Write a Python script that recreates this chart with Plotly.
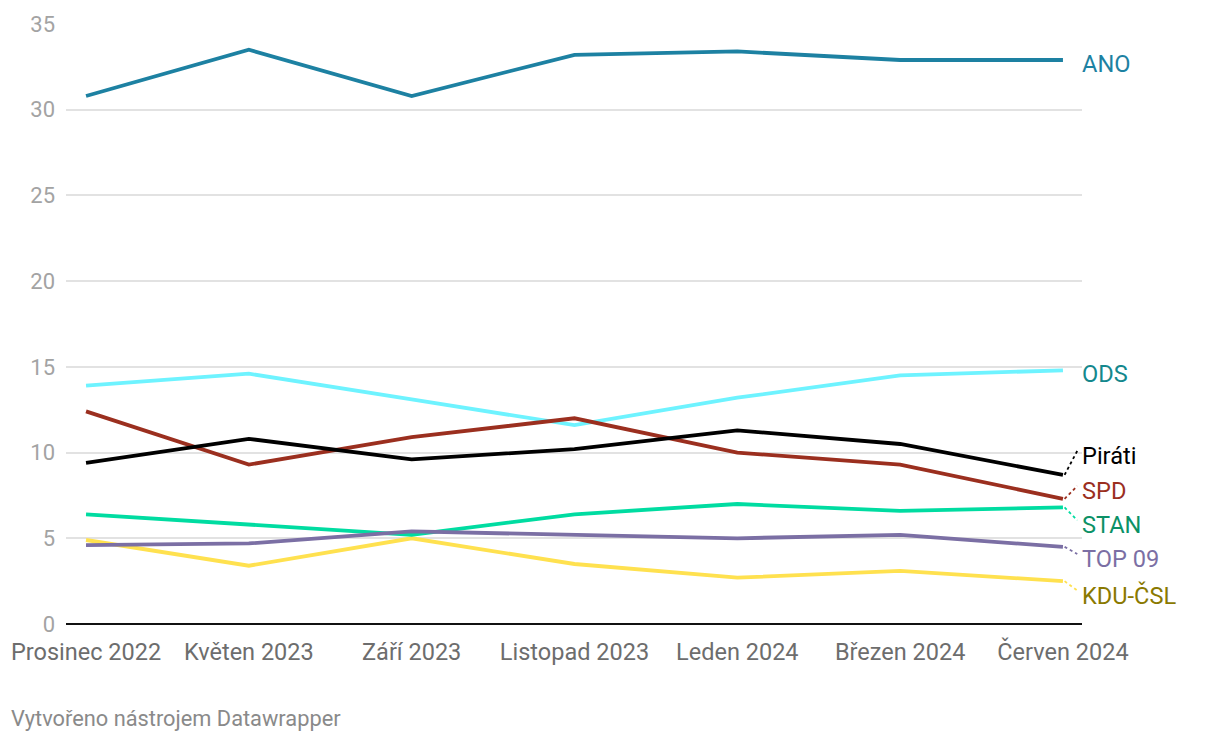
import plotly.graph_objects as go

months = ["Prosinec 2022", "Květen 2023", "Září 2023", "Listopad 2023",
          "Leden 2024", "Březen 2024", "Červen 2024"]

ano = [30.8, 33.5, 30.8, 33.2, 33.4, 32.9, 32.9]
ods = [13.9, 14.6, 13.1, 11.6, 13.2, 14.5, 14.8]
pirati = [9.4, 10.8, 9.6, 10.2, 11.3, 10.5, 8.7]
spd = [12.4, 9.3, 10.9, 12.0, 10.0, 9.3, 7.3]
stan = [6.4, 5.8, 5.2, 6.4, 7.0, 6.6, 6.8]
top09 = [4.6, 4.7, 5.4, 5.2, 5.0, 5.2, 4.5]
kdu = [4.9, 3.4, 5.0, 3.5, 2.7, 3.1, 2.5]

series_names = ["ANO", "ODS", "SPD", "Piráti", "KDU-ČSL", "STAN", "TOP 09"]
series_values = [ano, ods, spd, pirati, kdu, stan, top09]
line_colors = ["#1d81a2", "#6ef3ff", "#9b2f1f", "#000000", "#ffe14f", "#00dca1", "#7b6fa4"]
label_colors = ["#1d81a2", "#14888d", "#9b2f1f", "#000000", "#8a7900", "#0b9166", "#7b6fa4"]
# label vertical positions (value units) for the end labels
label_pos = [32.65, 14.6, 7.75, 9.8, 1.65, 5.75, 3.78]
dotted = [False, False, True, True, True, True, True]

x_idx = list(range(len(months)))

fig = go.Figure()
for name, vals, lc in zip(series_names, series_values, line_colors):
    fig.add_trace(go.Scatter(x=x_idx, y=vals, mode="lines", name=name,
                             line=dict(color=lc, width=3.8), hoverinfo="skip"))

last = len(months) - 1
for name, vals, lc, tc, ly, dt in zip(series_names, series_values, line_colors,
                                      label_colors, label_pos, dotted):
    if dt:
        fig.add_trace(go.Scatter(x=[last + 0.01, last + 0.088], y=[vals[-1], ly + 0.3],
                                 mode="lines", line=dict(color=lc, width=1.8, dash="dot"),
                                 hoverinfo="skip", showlegend=False))
    fig.add_annotation(x=1.0, y=ly, xref="paper", yref="y", text=name,
                       showarrow=False, xanchor="left", yanchor="middle", xshift=-2,
                       font=dict(family="Roboto", size=23.6, color=tc))

fig.add_annotation(x=0, y=0, xref="paper", yref="paper", xanchor="left", yanchor="middle",
                   text="Vytvořeno nástrojem Datawrapper", showarrow=False,
                   xshift=-57, yshift=-94,
                   font=dict(family="Roboto", size=21.8, color="#8a8a8a"))

fig.update_layout(
    width=1212, height=734,
    margin=dict(l=58, r=138, t=16, b=117.5),
    plot_bgcolor="white", paper_bgcolor="white",
    showlegend=False,
    font=dict(family="Roboto"),
    xaxis=dict(range=[-0.123, last + 0.117], tickvals=x_idx, ticktext=months,
               showgrid=False, zeroline=False, showline=False, ticks="",
               automargin=False, ticklabelstandoff=11,
               tickfont=dict(family="Roboto", size=23.5, color="#6d6d6d")),
    yaxis=dict(range=[0, 35], tickvals=[0, 5, 10, 15, 20, 25, 30, 35],
               showgrid=True, gridcolor="#e2e2e2", gridwidth=1.5,
               zeroline=True, zerolinecolor="#111111", zerolinewidth=2,
               showline=False, ticks="", ticklabelstandoff=10, automargin=False,
               tickfont=dict(family="Roboto", size=22, color="#a3a3a3")),
)

fig.write_html("out.html")
